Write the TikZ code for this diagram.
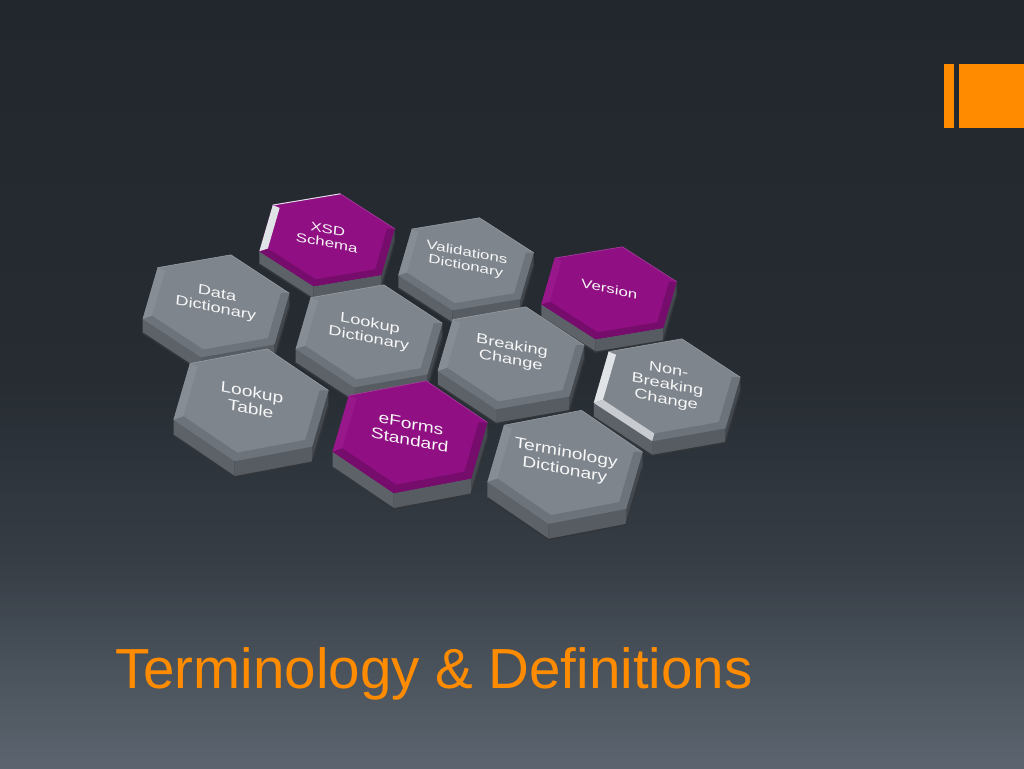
\documentclass[tikz,border=0pt]{standalone}
\usepackage{fontspec}
\setmainfont{Liberation Sans}
\usetikzlibrary{calc}
\definecolor{bgtop}{RGB}{34,39,45}
\definecolor{bgmid}{RGB}{38,44,50}
\definecolor{bglow}{RGB}{54,61,69}
\definecolor{bgbot}{RGB}{92,101,111}
\definecolor{accent}{RGB}{255,140,0}
\definecolor{gface}{RGB}{126,133,141}
\definecolor{gbevel}{RGB}{108,115,122}
\definecolor{gleft}{RGB}{134,141,149}
\definecolor{mface}{RGB}{144,16,132}
\definecolor{mbevel}{RGB}{118,12,108}
\definecolor{mleft}{RGB}{152,24,140}
\definecolor{sideR}{RGB}{68,73,79}
\definecolor{sideF}{RGB}{86,92,98}
\definecolor{sideL}{RGB}{92,98,104}
\definecolor{sideline}{RGB}{50,54,59}
\definecolor{hilite}{RGB}{225,228,230}
\pgfdeclareverticalshading{slidebg}{100bp}{color(0bp)=(bgbot); color(25bp)=(bgbot); color(38.5bp)=(bglow); color(50.3bp)=(bgmid); color(75bp)=(bgtop); color(100bp)=(bgtop)}
\tikzset{
  hexlabel/.style={transform shape, text=white!94!gray, font=\fontsize{12.3}{13.4}\selectfont, align=center, inner sep=0pt},
  titletext/.style={anchor=base west, inner sep=0pt, text=accent, font=\fontsize{56.5}{68}\selectfont}
}
\newcommand\hexcell[9]{%
  \pgfmathsetmacro\hxa{1.6*#4}%
  \pgfmathsetmacro\hxb{-0.31*#4}%
  \pgfmathsetmacro\hxc{0.32*#5}%
  \pgfmathsetmacro\hxd{1.10*#5}%
  \pgfmathsetmacro\hta{1.55*#4}%
  \pgfmathsetmacro\htb{-0.30*#4}%
  \pgfmathsetmacro\htc{0.10*#5}%
  \pgfmathsetmacro\htd{1.20*#5}%
  \pgfmathsetmacro\hxy{768-#3}%
  \pgfmathsetmacro\hxe{15.5*#5}%
  \begin{scope}[cm={\hxa,\hxb,\hxc,\hxd,(#2,\hxy)}]
    \foreach \hexk/\hexang in {0/90,1/30,2/-30,3/-90,4/-150,5/150}{%
      \coordinate (#1-\hexk) at (\hexang:50);
      \coordinate (#1-i\hexk) at ({44*cos(\hexang)},{44*sin(\hexang)+1.5});}
  \end{scope}
  \fill[sideR] (#1-1) -- (#1-2) -- ($(#1-2)+(0,-\hxe)$) -- ($(#1-1)+(0,-\hxe)$) -- cycle;
  \fill[sideF] (#1-2) -- (#1-3) -- ($(#1-3)+(0,-\hxe)$) -- ($(#1-2)+(0,-\hxe)$) -- cycle;
  \fill[sideL] (#1-3) -- (#1-4) -- ($(#1-4)+(0,-\hxe)$) -- ($(#1-3)+(0,-\hxe)$) -- cycle;
  \draw[sideline, line width=1.5pt] ($(#1-1)+(0,-\hxe)$) -- ($(#1-2)+(0,-\hxe)$) -- ($(#1-3)+(0,-\hxe)$) -- ($(#1-4)+(0,-\hxe)$);
  \fill[#6] (#1-0) -- (#1-1) -- (#1-2) -- (#1-3) -- (#1-4) -- (#1-5) -- cycle;
  \fill[#7] (#1-1) -- (#1-2) -- (#1-3) -- (#1-4) -- (#1-i4) -- (#1-i3) -- (#1-i2) -- (#1-i1) -- cycle;
  \fill[#9] (#1-4) -- (#1-5) -- (#1-i5) -- (#1-i4) -- cycle;
  \draw[#6!80!white, line width=0.6pt] (#1-5) -- (#1-0) -- (#1-1);
  \begin{scope}[cm={\hta,\htb,\htc,\htd,(#2,\hxy)}]
    \node[hexlabel] (#1) at (0,4) {#8};
  \end{scope}
}
\begin{document}
\begin{tikzpicture}[x=1pt,y=1pt]
\useasboundingbox (0,0) rectangle (1024,768);
\shade[shading=slidebg] (0,0) rectangle (1024,768);
% accent bars
\fill[accent] (944,640) rectangle (954,704);
\fill[accent] (959,640) rectangle (1024,704);
% row 0
\hexcell{xsd}{327}{240}{0.88}{0.84}{mface}{mbevel}{XSD\\Schema}{hilite}
\draw[hilite, line width=0.9pt] (xsd-5) -- (xsd-0);
\hexcell{val}{466}{264}{0.88}{0.84}{gface}{gbevel}{Validations\\Dictionary}{gleft}
\hexcell{ver}{609}{293}{0.88}{0.84}{mface}{mbevel}{Version}{mleft}
% row 1
\hexcell{dd}{216}{306}{0.95}{0.93}{gface}{gbevel}{Data\\Dictionary}{gleft}
\hexcell{ld}{369}{336}{0.95}{0.93}{gface}{gbevel}{Lookup\\Dictionary}{gleft}
\hexcell{bc}{511}{358}{0.95}{0.93}{gface}{gbevel}{Breaking\\Change}{gleft}
\hexcell{nbc}{667}{390}{0.95}{0.93}{gface}{gbevel}{Non-\\Breaking\\Change}{hilite}
\fill[hilite!75!gface] (nbc-3) -- (nbc-4) -- (nbc-i4) -- (nbc-i3) -- cycle;
% row 2
\hexcell{lt}{251}{405}{1}{1.02}{gface}{gbevel}{Lookup\\Table}{gleft}
\hexcell{efs}{410}{437}{1}{1.02}{mface}{mbevel}{eForms\\Standard}{mleft}
\hexcell{td}{565}{467}{1}{1.03}{gface}{gbevel}{Terminology\\Dictionary}{gleft}
% title
\node[titletext] (title) at (115,80) {Terminology \& Definitions};
\end{tikzpicture}
\end{document}
